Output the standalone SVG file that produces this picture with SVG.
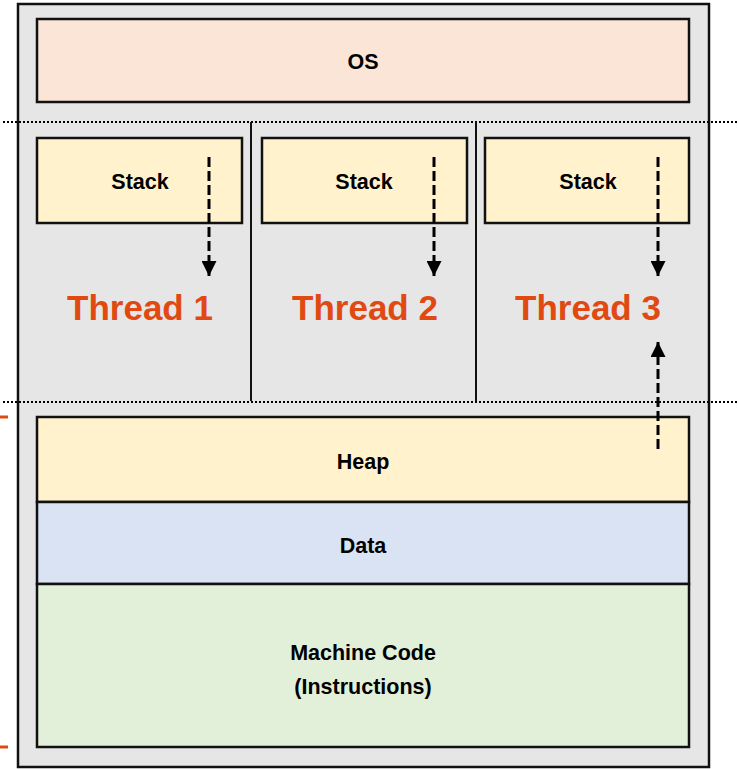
<svg xmlns="http://www.w3.org/2000/svg" width="738" height="769" viewBox="0 0 738 769">
  <style>
    .box { stroke: #111; stroke-width: 2.5; }
    .lbl { font-family: "Liberation Sans", Arial, sans-serif; font-weight: bold; font-size: 21.5px; fill: #000; text-anchor: middle; }
    .thr { font-family: "Liberation Sans", Arial, sans-serif; font-weight: bold; font-size: 35px; fill: #E04A12; text-anchor: middle; }
    .dot { stroke: #000; stroke-width: 2; stroke-dasharray: 2 2; fill: none; }
    .div { stroke: #111; stroke-width: 2; }
    .dash { stroke: #000; stroke-width: 3; stroke-dasharray: 10 4; fill: none; }
    .tick { stroke: #E04A12; stroke-width: 3; }
  </style>
  <defs>
    <marker id="head" viewBox="0 0 10 10" refX="10" refY="5" markerWidth="5" markerHeight="5" markerUnits="strokeWidth" orient="auto">
      <path d="M0,0 L10,5 L0,10 Z" fill="#000"/>
    </marker>
  </defs>

  <!-- process address space -->
  <g id="process">
    <rect x="18" y="4" width="691" height="763" fill="#E6E6E6" class="box"/>
  </g>

  <!-- boundaries of the thread region -->
  <g id="boundaries">
    <line x1="3" y1="122" x2="738" y2="122" class="dot"/>
    <line x1="3" y1="402" x2="738" y2="402" class="dot"/>
    <line x1="251" y1="122" x2="251" y2="401" class="div"/>
    <line x1="476" y1="122" x2="476" y2="401" class="div"/>
    <line x1="0" y1="417" x2="8" y2="417" class="tick"/>
    <line x1="0" y1="747" x2="8" y2="747" class="tick"/>
  </g>

  <g id="os">
    <rect x="37" y="19" width="652" height="83" fill="#FBE5D6" class="box"/>
    <text x="363" y="69" class="lbl">OS</text>
  </g>

  <g id="stack1">
    <rect x="37" y="138" width="205" height="85" fill="#FFF2CC" class="box"/>
    <text x="140" y="189" class="lbl">Stack</text>
  </g>
  <g id="stack2">
    <rect x="262" y="138" width="205" height="85" fill="#FFF2CC" class="box"/>
    <text x="364" y="189" class="lbl">Stack</text>
  </g>
  <g id="stack3">
    <rect x="485" y="138" width="204" height="85" fill="#FFF2CC" class="box"/>
    <text x="588" y="189" class="lbl">Stack</text>
  </g>

  <g id="thread1"><text x="140" y="320" class="thr">Thread 1</text></g>
  <g id="thread2"><text x="365" y="320" class="thr">Thread 2</text></g>
  <g id="thread3"><text x="588" y="320" class="thr">Thread 3</text></g>

  <g id="heap">
    <rect x="37" y="417" width="652" height="85" fill="#FFF2CC" class="box"/>
    <text x="363" y="469" class="lbl">Heap</text>
  </g>
  <g id="data">
    <rect x="37" y="502" width="652" height="82" fill="#DAE3F3" class="box"/>
    <text x="363" y="553" class="lbl">Data</text>
  </g>
  <g id="code">
    <rect x="37" y="584" width="652" height="163" fill="#E2F0D9" class="box"/>
    <text x="363" y="660" class="lbl">Machine Code</text>
    <text x="363" y="694" class="lbl">(Instructions)</text>
  </g>

  <!-- growth directions -->
  <g id="connectors">
    <line x1="209" y1="157" x2="209" y2="276" class="dash" marker-end="url(#head)"/>
    <line x1="434" y1="157" x2="434" y2="276" class="dash" marker-end="url(#head)"/>
    <line x1="658" y1="157" x2="658" y2="276" class="dash" marker-end="url(#head)"/>
    <line x1="658" y1="449" x2="658" y2="342" class="dash" marker-end="url(#head)"/>
  </g>
</svg>
